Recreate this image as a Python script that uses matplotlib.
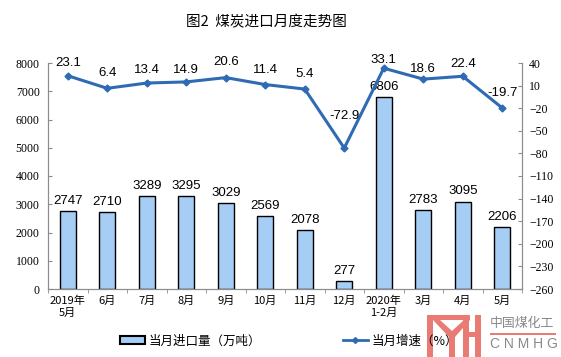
import numpy as np
import matplotlib.pyplot as plt
from matplotlib.patches import Patch, Rectangle, Polygon
from matplotlib.lines import Line2D

plt.rcParams['font.family'] = ['Noto Sans CJK SC', 'DejaVu Sans']

months = ['2019年\n5月', '6月', '7月', '8月', '9月', '10月', '11月', '12月',
          '2020年\n1-2月', '3月', '4月', '5月']
imports = [2747, 2710, 3289, 3295, 3029, 2569, 2078, 277, 6806, 2783, 3095, 2206]
growth = [23.1, 6.4, 13.4, 14.9, 20.6, 11.4, 5.4, -72.9, 33.1, 18.6, 22.4, -19.7]
# how far above the marker each growth label sits (pixels in the picture)
growth_lift = [13, 15, 13, 12, 16, 15, 15, 32, 8, 10, 12, 15]

bar_color = '#a6cdf4'
line_color = '#2f6bb5'
axis_gray = '#8c8c8c'

W, H = 561, 357
fig = plt.figure(figsize=(W / 100, H / 100), dpi=100)
ax = fig.add_axes([48 / W, 1 - 289 / H, 474 / W, 226 / H])
ax2 = ax.twinx()

x = np.arange(len(months))
ax.bar(x, imports, width=0.4, color=bar_color, edgecolor='black', linewidth=1, zorder=2)
for xi, v in zip(x, imports):
    ax.annotate(str(v), (xi, v), xytext=(0, 3), textcoords='offset points',
                ha='center', va='bottom', fontsize=9.5, family='Liberation Sans')

ax2.plot(x, growth, color=line_color, lw=2.2, marker='D', markersize=3.5, zorder=3)
for xi, v, d in zip(x, growth, growth_lift):
    ax2.annotate(f'{v:.1f}', (xi, v), xytext=(0, d * 0.72), textcoords='offset points',
                 ha='center', va='center', fontsize=9.5, family='Liberation Sans')

ax.set_xlim(-0.5, len(months) - 0.5)
ax.set_ylim(0, 8000)
ax.set_yticks(np.arange(0, 8001, 1000))
ax2.set_ylim(-260, 40)
ax2.set_yticks(np.arange(-260, 41, 30))

ax.set_xticks(x)
ax.set_xticklabels(months, fontsize=8)
ax.set_xticks(np.arange(-0.5, len(months), 1), minor=True)
ax.tick_params(axis='x', which='major', length=0, pad=5)
ax.tick_params(axis='x', which='minor', length=3, direction='out', color=axis_gray)
ax.tick_params(axis='y', direction='in', length=3, color=axis_gray, labelsize=8.5, pad=6)
ax2.tick_params(axis='y', direction='in', length=3, color=axis_gray, labelsize=8.5, pad=5)
for lab in ax.get_yticklabels() + ax2.get_yticklabels():
    lab.set_family('Liberation Serif')

for a in (ax, ax2):
    a.spines['top'].set_visible(False)
    for s in ('left', 'right', 'bottom'):
        a.spines[s].set_color(axis_gray)

fig.text(266 / W, 1 - 22 / H, '图2  煤炭进口月度走势图', ha='center', va='center', fontsize=10.5)

handles = [Patch(facecolor=bar_color, edgecolor='black', linewidth=1.5),
           Line2D([], [], color=line_color, lw=2, marker='D', markersize=3)]
fig.legend(handles, ['当月进口量（万吨）', '当月增速（%）'], loc='center left',
           bbox_to_anchor=(120 / W, 1 - 341 / H), ncol=2, frameon=False,
           fontsize=9, handlelength=2.0, handleheight=0.6, handletextpad=0.3,
           columnspacing=6.5, borderpad=0, borderaxespad=0)


# watermark logo, drawn in picture pixels
def px(x0, y0):
    return (x0 / W, 1 - y0 / H)


def box(x0, y0, x1, y1, color):
    fig.patches.append(Rectangle(px(x0, y1), (x1 - x0) / W, (y1 - y0) / H,
                                 transform=fig.transFigure, color=color, lw=0, zorder=5))


wm = '#ea7a74'
box(427, 315, 433, 357, wm)
box(427, 315, 470, 320, wm)
fig.patches.append(Polygon([px(433, 320), px(440, 320), px(452, 331), px(464, 320),
                            px(470, 320), px(455, 337), px(449, 337)],
                           closed=True, transform=fig.transFigure, color=wm, lw=0, zorder=5))
box(449, 335, 455, 357, wm)
box(463, 315, 469, 357, wm)
box(475, 315, 481, 357, wm)
box(463, 332, 481, 337, wm)
box(490, 333, 556, 334.5, wm)
fig.text(490 / W, 1 - 323 / H, '中国煤化工', color='#8a8a8a', fontsize=9.3,
         va='center', ha='left')
fig.text(490 / W, 1 - 344 / H, 'C N M H G', color='#8a8a8a', fontsize=10,
         va='center', ha='left', family='Liberation Sans')

fig.savefig('out.png', dpi=100)
